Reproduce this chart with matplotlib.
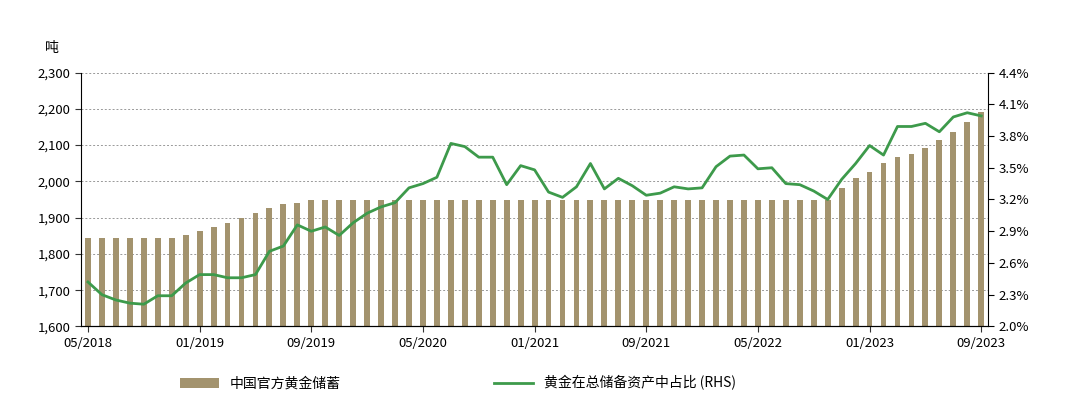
import matplotlib
matplotlib.use("Agg")
import matplotlib.pyplot as plt
import numpy as np
from matplotlib.ticker import FuncFormatter

plt.rcParams['font.family'] = ['Noto Sans CJK SC', 'DejaVu Sans']

reserves = [1842.6]*7 + [1852.5, 1864.3, 1873.7, 1885.5, 1899.6, 1913.1, 1926.4, 1936.5, 1941.6] + \
           [1948.3]*38 + [1980.3, 2010.2, 2024.9, 2050.4, 2068.2, 2076.4, 2092.4, 2113.2, 2136.6, 2165.0, 2191.6]
share = [2.42, 2.30, 2.25, 2.22, 2.21, 2.29, 2.29, 2.41, 2.49, 2.49, 2.46, 2.46, 2.49, 2.71, 2.76, 2.96,
         2.90, 2.94, 2.86, 2.98, 3.07, 3.13, 3.17, 3.31, 3.35, 3.41, 3.73, 3.70, 3.60, 3.60, 3.34, 3.52,
         3.48, 3.27, 3.22, 3.32, 3.54, 3.30, 3.40, 3.33, 3.24, 3.26, 3.32, 3.30, 3.31, 3.51, 3.61, 3.62,
         3.49, 3.50, 3.35, 3.34, 3.28, 3.20, 3.39, 3.54, 3.71, 3.62, 3.89, 3.89, 3.92, 3.84, 3.98, 4.02, 3.99]
tick_labels = ['05/2018', '01/2019', '09/2019', '05/2020', '01/2021', '09/2021', '05/2022', '01/2023', '09/2023']
x = np.arange(len(reserves))

fig = plt.figure(figsize=(10.8, 4.03), dpi=100)
ax = fig.add_axes([0.075, 0.19, 0.840, 0.63])
ax.bar(x, reserves, width=0.42, color='#a3936e', zorder=2, label='中国官方黄金储蓄')
ax.set_ylim(1600, 2300)
ax.set_yticks(range(1600, 2301, 100))
ax.yaxis.set_major_formatter(FuncFormatter(lambda v, p: f'{int(v):,}'))
ax.set_xlim(-0.5, len(x) - 0.5)
ax.set_xticks(x[::8])
ax.set_xticklabels(tick_labels)
ax.grid(axis='y', linestyle=(0, (2, 2)), color='#999999', linewidth=0.7, zorder=0)
for s in ['top', 'right']:
    ax.spines[s].set_visible(False)
ax.tick_params(labelsize=9.5, length=4, color='#333')
ax.text(-0.04, 1.08, '吨', transform=ax.transAxes, fontsize=10)

ax2 = ax.twinx()
ax2.plot(x, share, color='#3d9a4b', linewidth=2, zorder=3, label='黄金在总储备资产中占比 (RHS)')
ax2.set_ylim(2.0, 4.4)
ax2.set_yticks(np.arange(2.0, 4.41, 0.3))
ax2.yaxis.set_major_formatter(FuncFormatter(lambda v, p: f'{v:.1f}%'))
for s in ['top', 'left']:
    ax2.spines[s].set_visible(False)
ax2.tick_params(labelsize=9.5, length=4)

h1, l1 = ax.get_legend_handles_labels()
h2, l2 = ax2.get_legend_handles_labels()
fig.legend(h1 + h2, l1 + l2, loc='lower left', bbox_to_anchor=(0.155, 0.0), ncol=2,
           frameon=False, fontsize=10, columnspacing=11, handlelength=2.8)
fig.savefig('out.png', dpi=100)
